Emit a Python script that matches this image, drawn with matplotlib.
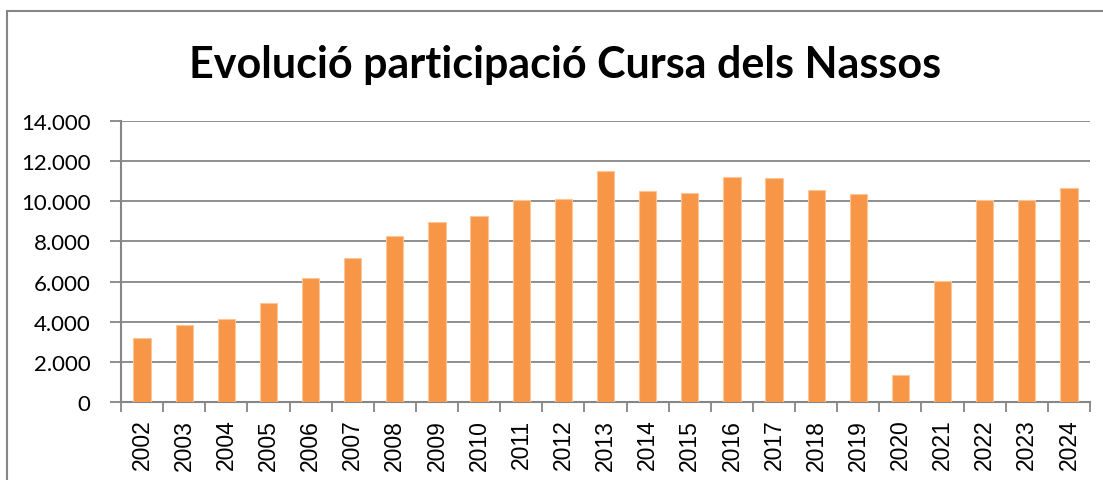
import matplotlib
matplotlib.use("Agg")
import matplotlib.pyplot as plt
from matplotlib.patches import Rectangle
import numpy as np

years = [str(y) for y in range(2002, 2025)]
participants = [3170, 3830, 4120, 4920, 6170, 7150, 8280, 8950, 9270,
                10050, 10120, 11530, 10530, 10420, 11230, 11150,
                10570, 10370, 1350, 6020, 10050, 10050, 10650]
yticks = [0, 2000, 4000, 6000, 8000, 10000, 12000, 14000]
ytick_labels = ['0', '2.000', '4.000', '6.000', '8.000', '10.000', '12.000', '14.000']

W, H = 1103, 481
fig = plt.figure(figsize=(W / 100, H / 100), dpi=100)

grey = '#868686'

# chart area border (Excel style)
fig.patches.append(Rectangle((7 / W, -0.1), 1.2, 1.1 - 12 / H, transform=fig.transFigure,
                             fill=False, edgecolor=grey, linewidth=1.5, zorder=0))

ax = fig.add_axes([121 / W, 1 - 403 / H, (1090 - 121) / W, (403 - 122) / H])

x = np.arange(len(years))
ax.bar(x, participants, width=0.41, color='#F79646', edgecolor='#FBC59A',
       linewidth=0.8, zorder=3)

ax.set_xlim(-0.5, len(years) - 0.5)
ax.set_ylim(0, 14000)

ax.set_yticks(yticks)
ax.set_yticklabels(ytick_labels, fontsize=16, fontfamily='Lato')
ax.yaxis.grid(True, color=grey, linewidth=1.3, zorder=0)
ax.set_axisbelow(True)

# category labels at centers, tick marks between categories
ax.set_xticks(x)
ax.set_xticklabels(years, rotation=90, fontsize=16.5, fontfamily='Liberation Sans')
ax.tick_params(axis='x', length=0, pad=12)
ax.set_xticks(np.arange(-0.5, len(years)), minor=True)
ax.tick_params(axis='x', which='minor', length=7, width=1.3, color=grey)
ax.tick_params(axis='y', length=8, width=1.3, color=grey, pad=14)

for s in ['top', 'right']:
    ax.spines[s].set_visible(False)
for s in ['left', 'bottom']:
    ax.spines[s].set_color(grey)
    ax.spines[s].set_linewidth(1.5)

fig.text(565 / W, 1 - 65 / H, 'Evolució participació Cursa dels Nassos',
         ha='center', va='center', fontsize=31, fontweight='bold', fontfamily='Lato')

fig.savefig('out.png', dpi=100)
